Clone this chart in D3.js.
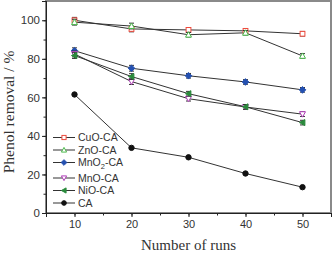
<!DOCTYPE html>
<head>
  <meta charset="utf-8">
  <script src="https://d3js.org/d3.v7.min.js"></script>
  <style>
    body { margin:0; background:#fff; }
    text { font-family: "Liberation Sans", Arial, sans-serif; }
  </style>
</head>
<body>
<div id="chart"></div>
<script>
  var width = 332;
  var height = 255;
  var margin = {top: 1, right: 1, bottom: 42, left: 46};

  // data
  var runs = [10, 20, 30, 40, 50];
  var names = ["CuO-CA", "ZnO-CA", "MnO\u2082-CA", "MnO-CA", "NiO-CA", "CA"];
  var cuo  = [100, 95.5, 95, 94.5, 93];
  var zno  = [99, 97, 92.5, 93.5, 81.5];
  var mno2 = [84.2, 75.1, 71.2, 68, 63.9];
  var mno  = [82.5, 68.2, 59.3, 55, 51.3];
  var nio  = [81.7, 70.8, 61.9, 55.1, 46.9];
  var ca   = [61.5, 33.8, 28.9, 20.5, 13.4];
  var errs = [1.5, 1.5, 1.2, 1.2, 1.2];
  var yTicks = [0, 20, 40, 60, 80, 100];
  var xTicks = [10, 20, 30, 40, 50];

  var series = [
    {name: names[0], vals: cuo,  color: "#ee4a3c", shape: "square",   fill: false},
    {name: names[1], vals: zno,  color: "#4cbb4c", shape: "triUp",    fill: false},
    {name: names[2], vals: mno2, color: "#2450b0", shape: "diamond",  fill: true},
    {name: names[3], vals: mno,  color: "#b03cb8", shape: "triDown",  fill: false},
    {name: names[4], vals: nio,  color: "#2a8a3c", shape: "triLeft",  fill: true},
    {name: names[5], vals: ca,   color: "#111111", shape: "circle",   fill: true}
  ];

  var x = d3.scaleLinear().domain([5, 55]).range([margin.left, width - margin.right]);
  var y = d3.scaleLinear().domain([0, 110]).range([height - margin.bottom, margin.top]);

  var svg = d3.select("#chart").append("svg")
    .attr("width", width).attr("height", height);

  // frame (top/right)
  svg.append("rect")
    .attr("x", margin.left).attr("y", margin.top)
    .attr("width", width - margin.right - margin.left)
    .attr("height", height - margin.bottom - margin.top)
    .attr("fill", "none").attr("stroke", "#8a8a8a").attr("stroke-width", 2);

  // minor ticks
  var xAxisMinor = d3.axisBottom(x).tickValues(d3.range(5, 56, 5)).tickSize(2.5).tickFormat("");
  var yAxisMinor = d3.axisLeft(y).tickValues(d3.range(0, 111, 10)).tickSize(2.5).tickFormat("");
  svg.append("g").attr("transform", "translate(0," + (height - margin.bottom) + ")").call(xAxisMinor);
  svg.append("g").attr("transform", "translate(" + margin.left + ",0)").call(yAxisMinor);

  var xAxis = d3.axisBottom(x).tickValues(xTicks).tickSize(4).tickPadding(3);
  var yAxis = d3.axisLeft(y).tickValues(yTicks).tickSize(4).tickPadding(2);
  var xg = svg.append("g").attr("transform", "translate(0," + (height - margin.bottom) + ")").call(xAxis);
  var yg = svg.append("g").attr("transform", "translate(" + margin.left + ",0)").call(yAxis);
  svg.selectAll(".domain").attr("stroke", "#222");
  svg.selectAll(".tick line").attr("stroke", "#222");
  xg.selectAll("text").attr("font-size", "11px").attr("fill", "#333")
    .attr("font-family", "Liberation Sans, Arial, sans-serif");
  yg.selectAll("text").attr("font-size", "11.5px").attr("fill", "#333")
    .attr("font-family", "Liberation Sans, Arial, sans-serif");

  // axis titles
  svg.append("text")
    .attr("x", (x(5) + x(55)) / 2 + 0).attr("y", 250)
    .attr("text-anchor", "middle")
    .style("font-family", "Liberation Serif, Times New Roman, serif")
    .style("font-size", "15px").attr("fill", "#333")
    .text("Number of runs");
  svg.append("text")
    .attr("transform", "translate(14,112) rotate(-90)")
    .attr("text-anchor", "middle")
    .style("font-family", "Liberation Serif, Times New Roman, serif")
    .style("font-size", "15.5px").attr("fill", "#333")
    .text("Phenol removal / %");

  function marker(g, shape, cx, cy, color, fill, s) {
    var p;
    if (shape === "circle") {
      p = g.append("circle").attr("cx", cx).attr("cy", cy).attr("r", s * 0.9);
    } else if (shape === "square") {
      p = g.append("rect").attr("x", cx - s * 0.8).attr("y", cy - s * 0.8)
        .attr("width", s * 1.6).attr("height", s * 1.6);
    } else {
      var pts;
      if (shape === "triUp") pts = [[0, -s], [s, s * 0.8], [-s, s * 0.8]];
      if (shape === "triDown") pts = [[0, s], [s, -s * 0.8], [-s, -s * 0.8]];
      if (shape === "triLeft") pts = [[-s, 0], [s * 0.8, -s], [s * 0.8, s]];
      if (shape === "diamond") pts = [[0, -s * 1.1], [s * 1.1, 0], [0, s * 1.1], [-s * 1.1, 0]];
      p = g.append("polygon").attr("points", pts.map(function(d){ return (cx + d[0]) + "," + (cy + d[1]); }).join(" "));
    }
    p.attr("fill", fill ? color : "#fff").attr("stroke", color).attr("stroke-width", 1);
  }

  var line = d3.line()
    .x(function(d){ return x(d.x); })
    .y(function(d){ return y(d.y); });

  series.forEach(function(s) {
    var pts = runs.map(function(r, i){ return {x: r, y: s.vals[i], e: errs[i]}; });
    svg.append("path").attr("d", line(pts))
      .attr("fill", "none").attr("stroke", "#333").attr("stroke-width", 1);
  });

  series.forEach(function(s) {
    var g = svg.append("g");
    runs.forEach(function(r, i) {
      if (s.name !== "CA") {
        var cx = x(r), t = y(s.vals[i] + errs[i]), b = y(s.vals[i] - errs[i]);
        g.append("line").attr("x1", cx).attr("x2", cx).attr("y1", t).attr("y2", b).attr("stroke", "#333");
        g.append("line").attr("x1", cx - 2.5).attr("x2", cx + 2.5).attr("y1", t).attr("y2", t).attr("stroke", "#333");
        g.append("line").attr("x1", cx - 2.5).attr("x2", cx + 2.5).attr("y1", b).attr("y2", b).attr("stroke", "#333");
      }
      marker(g, s.shape, x(r), y(s.vals[i]), s.color, s.fill, 3);
    });
  });

  // legend
  var legY = [137.5, 150, 162.5, 178, 190.5, 203];
  var leg = svg.append("g");
  series.forEach(function(s, i) {
    var ly = legY[i];
    leg.append("line").attr("x1", 53).attr("x2", 75).attr("y1", ly).attr("y2", ly)
      .attr("stroke", "#333").attr("stroke-width", 1);
    marker(leg, s.shape, 64, ly, s.color, s.fill, 2.6);
    var t = leg.append("text").attr("x", 78).attr("y", ly + 3.6)
      .attr("font-size", "10.5px").attr("fill", "#333");
    if (s.name.indexOf("\u2082") >= 0) {
      t.append("tspan").text("MnO");
      t.append("tspan").attr("dy", 3).attr("font-size", "7.5px").text("2");
      t.append("tspan").attr("dy", -3).text("-CA");
    } else {
      t.text(s.name);
    }
  });
</script>
</body>
